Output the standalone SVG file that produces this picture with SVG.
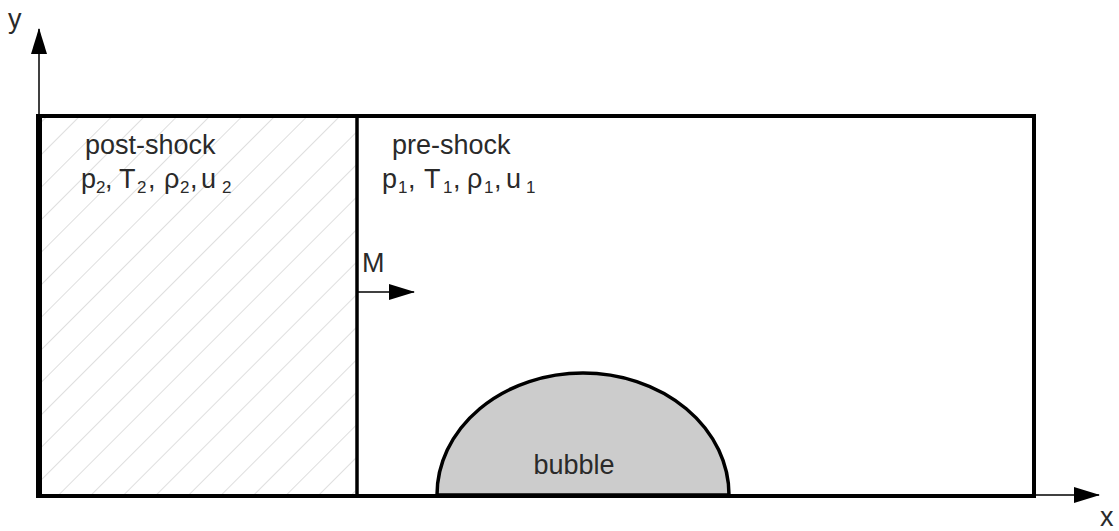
<svg xmlns="http://www.w3.org/2000/svg" width="1119" height="531" viewBox="0 0 1119 531">
<style>
text{font-family:"Liberation Sans",Arial,sans-serif;font-size:27px;fill:#2a2a2a}
.sub{font-size:17px}
.ax{stroke:#000;stroke-width:1.5;fill:none}
</style>
<defs>
<pattern id="hatch" patternUnits="userSpaceOnUse" width="23" height="23" patternTransform="rotate(45)">
<line x1="0" y1="0" x2="0" y2="23" stroke="#bdbdbd" stroke-width="1"/>
</pattern>
<marker id="ah" markerWidth="26" markerHeight="16" refX="25" refY="8" orient="auto" markerUnits="userSpaceOnUse">
<path d="M0,0 L26,8 L0,16 Z" fill="#000"/>
</marker>
</defs>
<rect width="1119" height="531" fill="#fff"/>
<g id="post-shock">
<rect x="39" y="116" width="318" height="380" fill="url(#hatch)"/>
<text x="85" y="154">post-shock</text>
<text y="188"><tspan x="81">p</tspan><tspan class="sub" x="96" dy="5">2</tspan><tspan x="105" dy="-5">,</tspan><tspan x="119">T</tspan><tspan class="sub" x="137" dy="5">2</tspan><tspan x="148" dy="-5">,</tspan><tspan x="164">ρ</tspan><tspan class="sub" x="180" dy="5">2</tspan><tspan x="190" dy="-5">,</tspan><tspan x="201">u</tspan><tspan class="sub" x="222" dy="5">2</tspan></text>
</g>
<g id="domain">
<rect x="39" y="116" width="995" height="380" fill="none" stroke="#000" stroke-width="4"/>
<line x1="39" y1="114" x2="39" y2="498" stroke="#000" stroke-width="6"/>
</g>
<g id="pre-shock">
<text x="392" y="154">pre-shock</text>
<text y="188"><tspan x="382">p</tspan><tspan class="sub" x="398" dy="5">1</tspan><tspan x="408" dy="-5">,</tspan><tspan x="424">T</tspan><tspan class="sub" x="443" dy="5">1</tspan><tspan x="453" dy="-5">,</tspan><tspan x="467">ρ</tspan><tspan class="sub" x="484" dy="5">1</tspan><tspan x="494" dy="-5">,</tspan><tspan x="506">u</tspan><tspan class="sub" x="526" dy="5">1</tspan></text>
</g>
<g id="bubble">
<path d="M437,495 A146,122 0 0 1 729,495 Z" fill="#cccccc" stroke="#000" stroke-width="3.5"/>
<text x="574" y="474" text-anchor="middle">bubble</text>
</g>
<g id="shock">
<line x1="357" y1="116" x2="357" y2="496" stroke="#000" stroke-width="3.5"/>
<text x="362" y="272">M</text>
</g>
<g id="connectors">
<line class="ax" x1="357" y1="292" x2="414" y2="292" marker-end="url(#ah)"/>
<line class="ax" x1="39" y1="114" x2="39" y2="29" marker-end="url(#ah)"/>
<line class="ax" x1="1034" y1="495" x2="1099" y2="495" marker-end="url(#ah)"/>
</g>
<g id="axis-labels">
<text x="8" y="28">y</text>
<text x="1100" y="526">x</text>
</g>
</svg>
